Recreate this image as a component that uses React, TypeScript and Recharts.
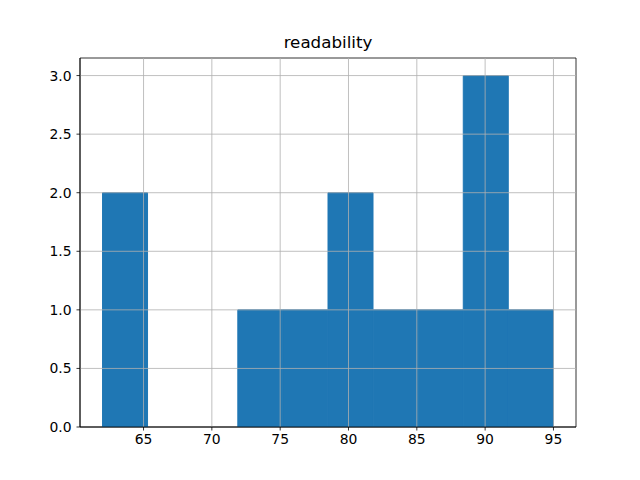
import { ComposedChart, Bar, XAxis, YAxis, ReferenceLine, ReferenceArea } from "recharts";

// pandas-style histogram of "readability", 10 bins from 62 to 95
const binCenters = [63.65, 66.95, 70.25, 73.55, 76.85, 80.15, 83.45, 86.75, 90.05, 93.35];
const binCounts = [2, 0, 0, 1, 1, 2, 1, 1, 3, 1];
const xTicks = [65, 70, 75, 80, 85, 90, 95];
const yTicks = [0, 0.5, 1, 1.5, 2, 2.5, 3];
const xDomain = [60.35, 96.65];
const yDomain = [0, 3.15];

const data = binCenters.map((center, i) => ({ center, count: binCounts[i] }));

const font = "DejaVu Sans, sans-serif";
const tickStyle = { fill: "#000", fontSize: 13.9, fontFamily: font };
const gridColor = "#b0b0b0";
const barColor = "#1f77b4";

const App = () => {
    return (
        <div style={{ position: "absolute", left: 0, top: 0, width: 640, height: 480, background: "#fff" }}>
            <div
                style={{
                    position: "absolute",
                    top: 32,
                    left: 80,
                    width: 496,
                    textAlign: "center",
                    fontFamily: font,
                    fontSize: 16.7,
                    color: "#000",
                }}
            >
                readability
            </div>
            <ComposedChart
                width={640}
                height={480}
                data={data}
                barCategoryGap={0}
                barGap={0}
                margin={{ top: 58, right: 64, bottom: 0, left: 0 }}
            >
                <XAxis
                    dataKey="center"
                    type="number"
                    domain={xDomain}
                    ticks={xTicks}
                    allowDataOverflow
                    height={53}
                    tickSize={3.5}
                    tickMargin={4}
                    tick={tickStyle}
                    stroke="#000"
                    strokeWidth={0.8}
                />
                <YAxis
                    type="number"
                    domain={yDomain}
                    ticks={yTicks}
                    allowDataOverflow
                    width={80}
                    tickSize={3.5}
                    tickMargin={5}
                    tick={tickStyle}
                    tickFormatter={(v: number) => v.toFixed(1)}
                    stroke="#000"
                    strokeWidth={0.8}
                />
                <Bar
                    dataKey="count"
                    fill={barColor}
                    stroke={barColor}
                    strokeWidth={1}
                    isAnimationActive={false}
                />
                {xTicks.map((t) => (
                    <ReferenceLine key={"x" + t} x={t} stroke={gridColor} strokeWidth={0.8} />
                ))}
                {yTicks.slice(1).map((t) => (
                    <ReferenceLine key={"y" + t} y={t} stroke={gridColor} strokeWidth={0.8} />
                ))}
                {/* axes frame (matplotlib draws all four spines) */}
                <ReferenceArea
                    x1={xDomain[0]}
                    x2={xDomain[1]}
                    y1={yDomain[0]}
                    y2={yDomain[1]}
                    fill="none"
                    stroke="#000"
                    strokeWidth={0.8}
                />
            </ComposedChart>
        </div>
    );
};

export default App;
